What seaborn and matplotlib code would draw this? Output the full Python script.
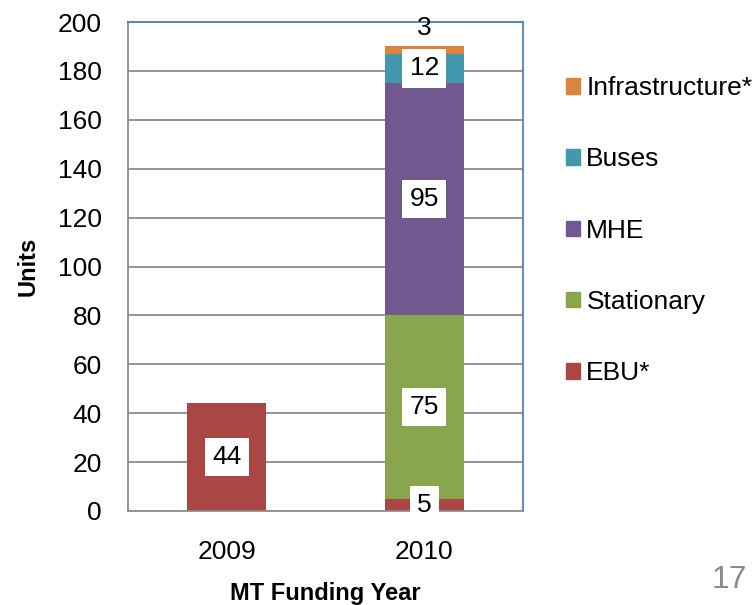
import matplotlib
matplotlib.use("Agg")
import matplotlib.pyplot as plt
import seaborn as sns
import pandas as pd
from matplotlib.patches import Patch

years = ["2009", "2010"]
categories = ["EBU*", "Stationary", "MHE", "Buses", "Infrastructure*"]
ebu = [44, 5]
stationary = [0, 75]
mhe = [0, 95]
buses = [0, 12]
infrastructure = [0, 3]
colors = ["#AA4643", "#89A54E", "#71588F", "#4198AF", "#DB843D"]

series = [ebu, stationary, mhe, buses, infrastructure]
df = pd.DataFrame({"year": years})
for name, vals in zip(categories, series):
    df[name] = vals
cum = df[categories].cumsum(axis=1)

sns.set_style("white")
plt.rcParams["font.family"] = ["Liberation Sans", "DejaVu Sans"]
plt.rcParams["text.color"] = "black"
plt.rcParams["axes.labelcolor"] = "black"

fig = plt.figure(figsize=(7.54, 6.05), dpi=100)
ax = fig.add_axes([0.1698, 0.1554, 0.5239, 0.8082])

# stacked bars: draw cumulative totals from top segment down
for name, color in reversed(list(zip(categories, colors))):
    sns.barplot(x=df["year"], y=cum[name], color=color, width=0.4,
                saturation=1, linewidth=0, order=years, ax=ax, zorder=2)

# data labels
for i, name in enumerate(categories):
    for j in range(len(years)):
        v = df[name][j]
        if v <= 0:
            continue
        top = cum[name][j]
        if name == "Infrastructure*":
            ax.text(j, top + 7.5, str(v), ha="center", va="center",
                    fontsize=19, zorder=5)
        else:
            ax.text(j, top - v / 2, str(v), ha="center", va="center",
                    fontsize=19, zorder=5, clip_on=False,
                    bbox=dict(boxstyle="square,pad=0.27", fc="white", ec="none"))

ax.set_ylim(0, 200)
ax.set_xlim(-0.5, 1.5)
ax.set_yticks(range(0, 201, 20))
ax.set_axisbelow(True)
ax.yaxis.grid(True, color="#8C8C8C", lw=1.3)

ax.set_xticks([0, 1])
ax.set_xticklabels(years)
ax.set_xticks([-0.5, 0.5, 1.5], minor=True)
ax.tick_params(axis="x", which="major", length=0, pad=21, labelsize=19, labelcolor="black")
ax.tick_params(axis="x", which="minor", length=8, width=1.3, color="#8C8C8C", direction="out")
ax.tick_params(axis="y", length=8, width=1.3, color="#8C8C8C", direction="out", pad=11,
               labelsize=19, labelcolor="black")

for s in ["left", "bottom"]:
    ax.spines[s].set_color("#8C8C8C")
    ax.spines[s].set_linewidth(1.3)
for s in ["top", "right"]:
    ax.spines[s].set_color("#4F81BD")
    ax.spines[s].set_linewidth(1.3)

ax.set_xlabel("MT Funding Year", fontsize=17, fontweight="bold", labelpad=12.5)
ax.set_ylabel("Units", fontsize=17, fontweight="bold", labelpad=13)

handles = [Patch(color=c, label=n) for n, c in reversed(list(zip(categories, colors)))]
ax.legend(handles=handles, loc="upper left", bbox_to_anchor=(0.7507, 0.874),
          bbox_transform=fig.transFigure, frameon=False, fontsize=19,
          handlelength=0.53, handleheight=0.53, handletextpad=0.24,
          labelspacing=1.79, borderpad=0, borderaxespad=0)

fig.text(0.968, 0.041, "17", fontsize=23, color="#8C8C8C", ha="center", va="center")

fig.savefig("out.png", dpi=100)
